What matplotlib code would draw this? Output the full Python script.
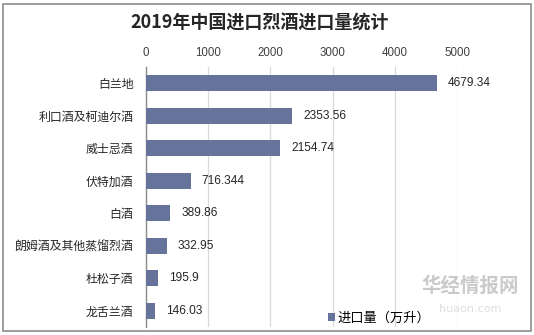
import matplotlib
matplotlib.use('Agg')
import matplotlib.pyplot as plt
from matplotlib.patches import Rectangle

plt.rcParams['font.family'] = ['Noto Sans CJK SC', 'DejaVu Sans']

# data
categories = ['白兰地', '利口酒及柯迪尔酒', '威士忌酒', '伏特加酒', '白酒',
              '朗姆酒及其他蒸馏烈酒', '杜松子酒', '龙舌兰酒']
values = [4679.34, 2353.56, 2154.74, 716.344, 389.86, 332.95, 195.9, 146.03]
value_labels = ['4679.34', '2353.56', '2154.74', '716.344', '389.86',
                '332.95', '195.9', '146.03']
x_ticks = [0, 1000, 2000, 3000, 4000, 5000]
title = '2019年中国进口烈酒进口量统计'
series_name = '进口量（万升）'

W, H = 534, 335
fig = plt.figure(figsize=(W / 100, H / 100), dpi=100)

# outer grey frame
fig.patches.append(Rectangle((3 / W, 4 / H), 528 / W, 327 / H, transform=fig.transFigure,
                             fill=False, edgecolor='#8c8c8c', linewidth=1.2))

ax = fig.add_axes([146 / W, 1 - 327 / H, 311 / W, 260 / H])
bar_color = '#66739b'
bars = ax.barh(range(len(categories)), values, height=0.49, color=bar_color,
               label=series_name, zorder=3)

ax.set_xlim(0, 5000)
ax.set_ylim(len(categories) - 0.5, -0.5)
ax.set_yticks(range(len(categories)))
ax.set_yticklabels(categories, fontsize=8.6, color='#262626')
ax.set_xticks(x_ticks)
ax.set_xticklabels([str(t) for t in x_ticks], fontsize=8.3, color='#404040',
                   family='Liberation Sans')
ax.xaxis.tick_top()
ax.tick_params(axis='both', length=0)
ax.tick_params(axis='x', pad=6)
ax.tick_params(axis='y', pad=9)
ax.grid(axis='x', color='#d9d9d9', linewidth=0.9, zorder=0)
for side in ['top', 'right', 'bottom']:
    ax.spines[side].set_visible(False)
ax.spines['left'].set_color('#8c8c8c')
ax.spines['left'].set_linewidth(1)

for rect, lab in zip(bars, value_labels):
    ax.annotate(lab, (rect.get_width(), rect.get_y() + rect.get_height() / 2),
                xytext=(8, 0), textcoords='offset points', va='center', ha='left',
                fontsize=8.6, color='#262626', family='Liberation Sans')

fig.text(260 / W, 1 - 23 / H, title, ha='center', va='center', fontsize=13,
         fontweight='bold', color='#262626')

# faint watermark
fig.text(470 / W, 1 - 286 / H, '华经情报网', ha='center', va='center', fontsize=14,
         fontweight='bold', color='#a8a8a8', alpha=0.6)
fig.text(470 / W, 1 - 309 / H, 'huaon.com', ha='center', va='center', fontsize=8,
         color='#c8c8c8', alpha=0.6, family='DejaVu Sans')

ax.legend(handles=[bars], labels=[series_name], loc='center left',
          bbox_to_anchor=(328 / W, 1 - 318 / H), bbox_transform=fig.transFigure,
          frameon=False, fontsize=9.5, handlelength=0.55, handleheight=0.55,
          handletextpad=0.2, borderpad=0, borderaxespad=0)

fig.savefig('out.png', dpi=100, facecolor='white')
